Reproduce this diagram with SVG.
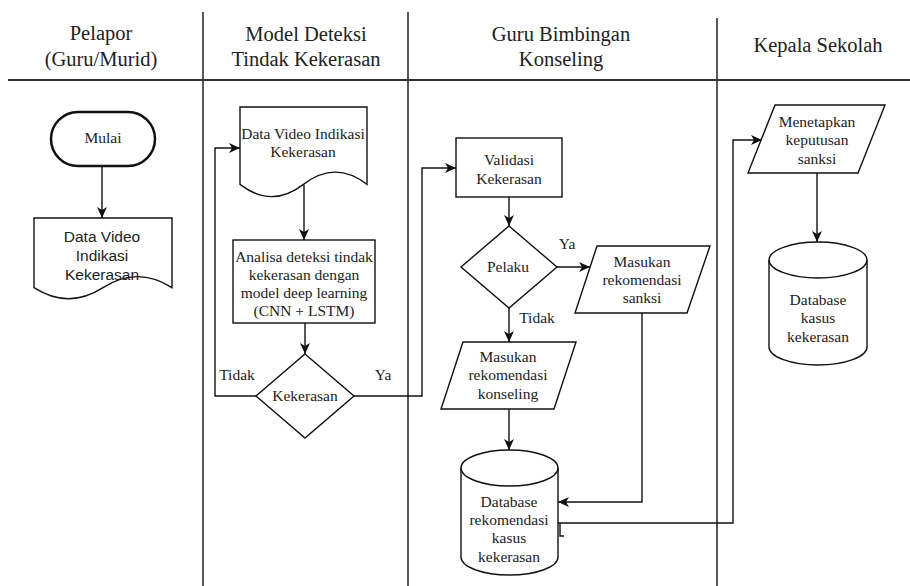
<svg xmlns="http://www.w3.org/2000/svg" width="910" height="586" viewBox="0 0 910 586">
<style>
.lane{stroke:#222;stroke-width:1.5;fill:none}
.hl{stroke:#333;stroke-width:2.2;fill:none}
.shape{fill:#fff;stroke:#111;stroke-width:1.4}
.edge{fill:none;stroke:#111;stroke-width:1.4}
.hd{font-family:"Liberation Serif","Times New Roman",serif;font-size:20.5px;fill:#222;text-anchor:middle}
.t{font-family:"Liberation Serif","Times New Roman",serif;font-size:15.5px;fill:#222;text-anchor:middle}
.ts{font-family:"Liberation Sans",Arial,sans-serif;font-size:15.5px;fill:#222;text-anchor:middle}
</style>
<defs>
<marker id="arr" markerUnits="userSpaceOnUse" markerWidth="12" markerHeight="10" refX="11" refY="5" orient="auto">
<path d="M0,0 L11,5 L0,10 L3,5 Z" fill="#111"/>
</marker>
</defs>
<rect width="910" height="586" fill="#fff"/>
<g id="lanes">
<path class="lane" d="M203,12 V586 M408,12 V586 M717,18 V586"/>
<path class="hl" d="M8,80 H910"/>
<text class="hd" x="101" y="40">Pelapor</text>
<text class="hd" x="101" y="66">(Guru/Murid)</text>
<text class="hd" x="306" y="41">Model Deteksi</text>
<text class="hd" x="306" y="66">Tindak Kekerasan</text>
<text class="hd" x="561" y="41">Guru Bimbingan</text>
<text class="hd" x="561" y="66">Konseling</text>
<text class="hd" x="818" y="52">Kepala Sekolah</text>
</g>
<g id="connectors">
<path class="edge" d="M102,166 V218" marker-end="url(#arr)"/>
<path class="edge" d="M304,185 V240" marker-end="url(#arr)"/>
<path class="edge" d="M305,323 V354" marker-end="url(#arr)"/>
<path class="edge" d="M256,396 H215 V148 H240" marker-end="url(#arr)"/>
<path class="edge" d="M354,396 H422 V168 H456" marker-end="url(#arr)"/>
<path class="edge" d="M509,197 V226" marker-end="url(#arr)"/>
<path class="edge" d="M557,267 H590" marker-end="url(#arr)"/>
<path class="edge" d="M509,308 V342" marker-end="url(#arr)"/>
<path class="edge" d="M509,409 V450" marker-end="url(#arr)"/>
<path class="edge" d="M642,313 V502 H558" marker-end="url(#arr)"/>
<path class="edge" d="M558,523 H733 V140 H762" marker-end="url(#arr)"/>
<path class="edge" d="M817,173 V242" marker-end="url(#arr)"/>
<path class="edge" d="M560,523 V536 H564"/>
<text class="t" x="237" y="380">Tidak</text>
<text class="t" x="383" y="380">Ya</text>
<text class="t" x="567" y="249">Ya</text>
<text class="t" x="537" y="323">Tidak</text>
</g>
<g id="mulai">
<rect class="shape" x="51" y="112" width="104" height="54" rx="27" ry="27" style="stroke-width:2.5"/>
<text class="t" x="103" y="143">Mulai</text>
</g>
<g id="data-video-1">
<path class="shape" d="M34,218 H172 V287.7 Q137.5,265.6 103,287.7 Q68.5,309.8 34,287.7 Z"/>
<text class="ts" x="102" y="242">Data Video</text>
<text class="ts" x="102" y="261">Indikasi</text>
<text class="ts" x="102" y="280">Kekerasan</text>
</g>
<g id="data-video-2">
<path class="shape" d="M240,107 H367 V184.4 Q335.3,159.8 303.5,184.4 Q271.8,208.9 240,184.4 Z"/>
<text class="t" x="303" y="139">Data Video Indikasi</text>
<text class="t" x="303" y="157">Kekerasan</text>
</g>
<g id="analisa">
<rect class="shape" x="233" y="240" width="142" height="83"/>
<text class="t" x="304" y="262">Analisa deteksi tindak</text>
<text class="t" x="304" y="280">kekerasan dengan</text>
<text class="t" x="304" y="298">model deep learning</text>
<text class="t" x="304" y="316">(CNN + LSTM)</text>
</g>
<g id="kekerasan">
<polygon class="shape" points="305,354 354,396 305,438 256,396"/>
<text class="t" x="305" y="401">Kekerasan</text>
</g>
<g id="validasi">
<rect class="shape" x="456" y="138" width="106" height="59"/>
<text class="t" x="509" y="165">Validasi</text>
<text class="t" x="509" y="184">Kekerasan</text>
</g>
<g id="pelaku">
<polygon class="shape" points="509,226 557,267 509,308 461,267"/>
<text class="t" x="508" y="272">Pelaku</text>
</g>
<g id="rekomendasi-sanksi">
<polygon class="shape" points="597,246 710,246 687,313 575,313"/>
<text class="t" x="642" y="267">Masukan</text>
<text class="t" x="642" y="285">rekomendasi</text>
<text class="t" x="642" y="303">sanksi</text>
</g>
<g id="rekomendasi-konseling">
<polygon class="shape" points="463,342 576,342 554,409 441,409"/>
<text class="t" x="508" y="362">Masukan</text>
<text class="t" x="508" y="380">rekomendasi</text>
<text class="t" x="508" y="399">konseling</text>
</g>
<g id="db-rekomendasi">
<path class="shape" d="M461,468 A48.5,18 0 0 1 558,468 V557 A48.5,18 0 0 1 461,557 Z"/>
<path class="shape" style="fill:none" d="M461,468 A48.5,18 0 0 0 558,468"/>
<text class="t" x="509" y="507">Database</text>
<text class="t" x="509" y="525">rekomendasi</text>
<text class="t" x="509" y="543">kasus</text>
<text class="t" x="509" y="562">kekerasan</text>
</g>
<g id="menetapkan">
<polygon class="shape" points="775,105 885,105 858,173 748,173"/>
<text class="t" x="817" y="127">Menetapkan</text>
<text class="t" x="817" y="145">keputusan</text>
<text class="t" x="817" y="164">sanksi</text>
</g>
<g id="db-kasus">
<path class="shape" d="M769,260 A49,18 0 0 1 867,260 V347 A49,18 0 0 1 769,347 Z"/>
<path class="shape" style="fill:none" d="M769,260 A49,18 0 0 0 867,260"/>
<text class="t" x="818" y="305">Database</text>
<text class="t" x="818" y="323">kasus</text>
<text class="t" x="818" y="342">kekerasan</text>
</g>
</svg>
